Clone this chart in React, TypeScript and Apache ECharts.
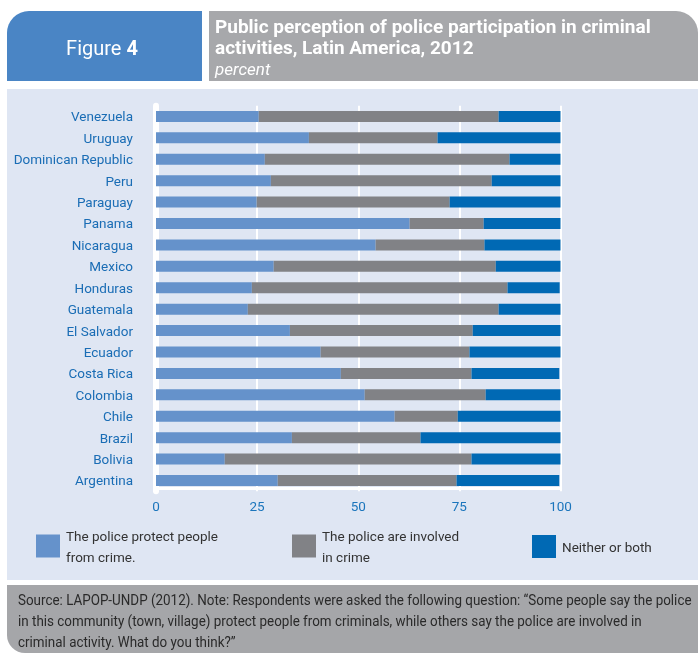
import React, { useEffect, useRef } from "react";
import * as echarts from "echarts";

const countries = [
  "Venezuela", "Uruguay", "Dominican Republic", "Peru", "Paraguay", "Panama",
  "Nicaragua", "Mexico", "Honduras", "Guatemala", "El Salvador", "Ecuador",
  "Costa Rica", "Colombia", "Chile", "Brazil", "Bolivia", "Argentina",
];
const protect = [25.4, 37.8, 26.9, 28.4, 24.9, 62.7, 54.3, 29.1, 23.7, 22.7, 33.1, 40.7, 45.7, 51.6, 59.0, 33.6, 17.0, 30.1];
const involved = [59.3, 31.8, 60.5, 54.6, 47.7, 18.3, 26.9, 54.9, 63.2, 62.0, 45.2, 36.8, 32.3, 29.9, 15.6, 31.8, 61.0, 44.2];
const neither = [15.3, 30.4, 12.6, 17.0, 27.4, 19.0, 18.8, 16.0, 12.9, 15.3, 21.7, 22.5, 21.7, 18.5, 25.4, 34.6, 22.0, 25.4];
const xTicks = [0, 25, 50, 75, 100];

const seriesNames = [
  "The police protect people from crime.",
  "The police are involved in crime",
  "Neither or both",
];
const legendLabels = [
  "The police protect people\nfrom crime.",
  "The police are involved\nin crime",
  "Neither or both",
];
const colors = ["#6592CB", "#818286", "#0069B4"];

const FONT = "Roboto, 'Liberation Sans', sans-serif";

export default function App() {
  const ref = useRef<HTMLDivElement>(null);
  useEffect(() => {
    if (!ref.current) return;
    const chart = echarts.init(ref.current, undefined, { renderer: "svg" });
    const legendLefts = [36, 292, 532];
    const legendTops = [525, 525, 535];
    const footerLines = [
      "Source: LAPOP-UNDP (2012). Note: Respondents were asked the following question: \u201CSome people say the police",
      "in this community (town, village) protect people from criminals, while others say the police are involved in",
      "criminal activity. What do you think?\u201D",
    ];
    chart.setOption({
      animation: false,
      textStyle: { fontFamily: FONT },
      graphic: {
        elements: [
          { type: "rect", z: -10, shape: { x: 7, y: 11, width: 195, height: 70, r: [22, 0, 0, 0] }, style: { fill: "#4A85C5" } },
          { type: "rect", z: -10, shape: { x: 209, y: 11, width: 489, height: 70, r: [0, 22, 0, 0] }, style: { fill: "#A7A8AB" } },
          { type: "rect", z: -10, shape: { x: 7, y: 89, width: 691, height: 491 }, style: { fill: "#DFE6F3" } },
          { type: "rect", z: -10, shape: { x: 7, y: 585, width: 691, height: 68, r: [0, 0, 0, 18] }, style: { fill: "#A5A6A9" } },
          {
            type: "text", z: 10, x: 102, y: 48,
            style: {
              text: "{r|Figure }{b|4}",
              align: "center", verticalAlign: "middle",
              rich: {
                r: { fontFamily: FONT, fontSize: 20, fill: "#ffffff" },
                b: { fontFamily: FONT, fontSize: 20, fontWeight: "bold", fill: "#ffffff" },
              },
            },
          },
          {
            type: "text", z: 10, x: 215, y: 26,
            style: { text: "Public perception of police participation in criminal", fontFamily: FONT, fontSize: 19, fontWeight: "bold", fill: "#ffffff", verticalAlign: "middle" },
          },
          {
            type: "text", z: 10, x: 215, y: 47,
            style: { text: "activities, Latin America, 2012", fontFamily: FONT, fontSize: 19, fontWeight: "bold", fill: "#ffffff", verticalAlign: "middle" },
          },
          {
            type: "text", z: 10, x: 215, y: 69,
            style: { text: "percent", fontFamily: FONT, fontSize: 17, fontStyle: "italic", fill: "#ffffff", verticalAlign: "middle" },
          },
          ...footerLines.map((t, i) => ({
            type: "text", z: 10, x: 18, y: 600 + i * 21, scaleX: 0.895,
            style: { text: t, fontFamily: FONT, fontSize: 15, fill: "#2A2A2A", verticalAlign: "middle" },
          })),
        ],
      },
      legend: seriesNames.map((n, i) => ({
        data: [n],
        left: legendLefts[i],
        top: legendTops[i],
        padding: 0,
        itemWidth: 24,
        itemHeight: 23,
        itemGap: 6,
        icon: "rect",
        selectedMode: false,
        formatter: () => legendLabels[i],
        textStyle: { fontFamily: FONT, fontSize: 13.5, color: "#333333", lineHeight: 21, padding: [0, 0, 0, 1] },
      })),
      grid: { left: 156, right: 137.5, top: 105.7, bottom: 164.8, containLabel: false },
      xAxis: {
        type: "value",
        min: xTicks[0],
        max: xTicks[xTicks.length - 1],
        interval: 25,
        offset: -3,
        axisLine: { show: true, lineStyle: { color: "#ffffff", width: 3 } },
        axisTick: { show: false },
        splitLine: { show: true, lineStyle: { color: "#ffffff", width: 2 } },
        axisLabel: { color: "#1B75BC", fontFamily: FONT, fontSize: 13.5, margin: 11 },
      },
      yAxis: {
        type: "category",
        inverse: true,
        data: countries,
        axisLine: { show: true, lineStyle: { color: "#ffffff", width: 6 } },
        axisTick: { show: false },
        axisLabel: { color: "#1A6DB5", fontFamily: FONT, fontSize: 13.5, margin: 23 },
      },
      series: [protect, involved, neither].map((d, i) => ({
        name: seriesNames[i],
        type: "bar",
        stack: "total",
        barWidth: 11,
        data: d,
        itemStyle: { color: colors[i] },
      })),
    });
    return () => chart.dispose();
  }, []);
  return <div ref={ref} style={{ position: "fixed", left: 0, top: 0, width: 698, height: 656 }} />;
}
